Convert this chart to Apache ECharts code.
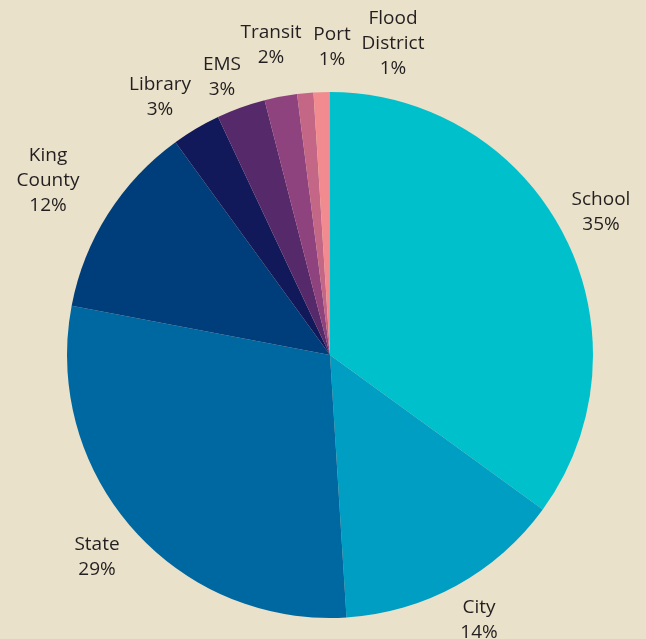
<!DOCTYPE html>
<html>
<head>
<meta charset="utf-8">
<script src="https://cdn.jsdelivr.net/npm/echarts@6/dist/echarts.min.js"></script>
<style>
  html, body { margin: 0; padding: 0; background: #e9e1ca; }
  #chart { width: 646px; height: 639px; }
</style>
</head>
<body>
<div id="chart"></div>
<script>
// property tax shares, clockwise from 12 o'clock
const categories = ['School', 'City', 'State', 'King\nCounty', 'Library', 'EMS', 'Transit', 'Port', 'Flood\nDistrict'];
const shares = [35, 14, 29, 12, 3, 3, 2, 1, 1];
const sliceColors = ['#00c0cc', '#009ec3', '#0068a0', '#003d7b', '#12195a', '#55296a', '#8e437e', '#c46787', '#f28b8f'];
// label centres (px)
const labelSpots = [[601, 212], [479, 620], [97, 557], [48, 181], [160, 97], [222, 77], [271, 45], [332, 47], [393, 44]];

const chart = echarts.init(document.getElementById('chart'));

chart.setOption({
    backgroundColor: '#e9e1ca',
    animation: false,
    series: [{
        type: 'pie',
        center: [330, 355],
        radius: 263,
        startAngle: 90,
        clockwise: true,
        avoidLabelOverlap: false,
        data: categories.map((c, i) => ({
            name: c,
            value: shares[i],
            itemStyle: { color: sliceColors[i] }
        })),
        label: {
            show: true,
            position: 'outside',
            formatter: p => p.name + '\n' + p.value + '%',
            color: '#231f20',
            fontFamily: 'Open Sans',
            fontSize: 19,
            lineHeight: 25,
            align: 'center'
        },
        labelLine: { show: false },
        labelLayout: p => ({
            x: labelSpots[p.dataIndex][0],
            y: labelSpots[p.dataIndex][1],
            align: 'center',
            verticalAlign: 'middle'
        })
    }]
});
</script>
</body>
</html>
